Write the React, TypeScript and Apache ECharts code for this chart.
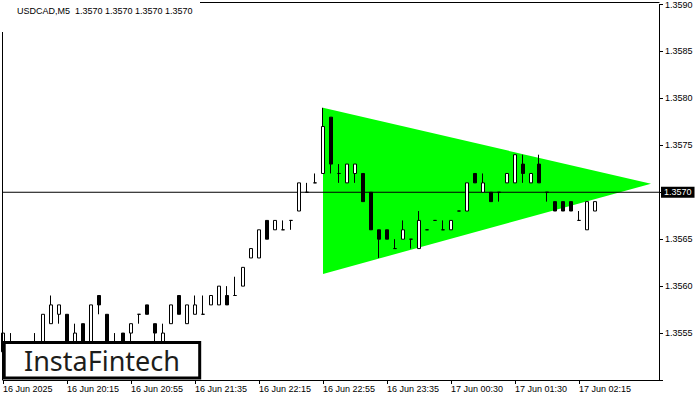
import React, { useEffect, useRef } from "react";
import * as echarts from "echarts";

const barCount = 83;
const tickStep = 8;
const tickLabels = [
  "16 Jun 2025",
  "16 Jun 20:15",
  "16 Jun 20:55",
  "16 Jun 21:35",
  "16 Jun 22:15",
  "16 Jun 22:55",
  "16 Jun 23:35",
  "17 Jun 00:30",
  "17 Jun 01:30",
  "17 Jun 02:15",
];

const opens = [
  1.3553, 1.3553, 1.3552, 1.3553, 1.3552, 1.3553, 1.3556, 1.3557, 1.3557, 1.3553,
  1.3556, 1.3553, 1.3559, 1.3557, 1.3553, 1.3555, 1.3555, 1.3557, 1.3558, 1.3556,
  1.3553, 1.3556, 1.3559, 1.3556, 1.3557, 1.3557, 1.3558, 1.3558, 1.3559, 1.3559,
  1.356, 1.3563, 1.3563, 1.3567, 1.3566, 1.3566, 1.3567, 1.3568, 1.357, 1.3571,
  1.3572, 1.3578, 1.3572, 1.3571, 1.3572, 1.3572, 1.357, 1.3566, 1.3566, 1.3564,
  1.3565, 1.3565, 1.3564, 1.3566, 1.3567, 1.3566, 1.3566, 1.3568, 1.3568, 1.3572,
  1.357, 1.357, 1.357, 1.3571, 1.3571, 1.3573, 1.3571, 1.3573, 1.357, 1.3569,
  1.3569, 1.3569, 1.3567, 1.3566, 1.3568,
];
const closes = [
  1.3555, 1.3552, 1.3553, 1.3552, 1.3553, 1.3557, 1.3558, 1.3558, 1.3553, 1.3555,
  1.3553, 1.3558, 1.3558, 1.3553, 1.3552, 1.3553, 1.3556, 1.3557, 1.3557, 1.3555,
  1.3555, 1.3558, 1.3557, 1.3558, 1.3558, 1.3557, 1.3559, 1.356, 1.3558, 1.3559,
  1.3562, 1.3564, 1.3566, 1.3565, 1.3567, 1.3566, 1.3567, 1.3571, 1.357, 1.3571,
  1.3577, 1.3573, 1.3572, 1.3573, 1.3573, 1.3569, 1.3566, 1.3565, 1.3565, 1.3564,
  1.3566, 1.3565, 1.3567, 1.3566, 1.3567, 1.3566, 1.3567, 1.3568, 1.3571, 1.3571,
  1.3571, 1.3569, 1.357, 1.3572, 1.3574, 1.3572, 1.3572, 1.3571, 1.357, 1.3568,
  1.3568, 1.3568, 1.3567, 1.3569, 1.3569,
];
const lows = [
  1.3552, 1.3551, 1.3551, 1.3551, 1.3551, 1.3552, 1.3556, 1.3556, 1.3552, 1.3552,
  1.3552, 1.3552, 1.3557, 1.3552, 1.3551, 1.3552, 1.3554, 1.3556, 1.3557, 1.3554,
  1.3552, 1.3556, 1.3557, 1.3556, 1.3557, 1.3557, 1.3558, 1.3558, 1.3558, 1.3559,
  1.356, 1.3563, 1.3563, 1.3565, 1.3566, 1.3566, 1.3566, 1.3568, 1.357, 1.3571,
  1.3572, 1.3572, 1.3571, 1.3571, 1.3571, 1.3569, 1.3566, 1.3563, 1.3565, 1.3564,
  1.3565, 1.3564, 1.3564, 1.3566, 1.3567, 1.3566, 1.3566, 1.3568, 1.3568, 1.3571,
  1.357, 1.3569, 1.3569, 1.3571, 1.3571, 1.3571, 1.3571, 1.3571, 1.3569, 1.3568,
  1.3568, 1.3568, 1.3567, 1.3566, 1.3568,
];
const highs = [
  1.3555, 1.3555, 1.3553, 1.3554, 1.3555, 1.3557, 1.3559, 1.3558, 1.3557, 1.3556,
  1.3556, 1.3558, 1.3559, 1.3557, 1.3555, 1.3555, 1.3556, 1.3557, 1.3558, 1.3556,
  1.3556, 1.3558, 1.3559, 1.3558, 1.3559, 1.3559, 1.3559, 1.356, 1.356, 1.3561,
  1.3562, 1.3564, 1.3566, 1.3567, 1.3567, 1.3567, 1.3567, 1.3571, 1.3571, 1.3572,
  1.3579, 1.3578, 1.3573, 1.3573, 1.3573, 1.3572, 1.357, 1.3566, 1.3566, 1.3565,
  1.3567, 1.3565, 1.3568, 1.3566, 1.3567, 1.3567, 1.3567, 1.3568, 1.3571, 1.3572,
  1.3572, 1.357, 1.357, 1.3572, 1.3574, 1.3574, 1.3572, 1.3574, 1.357, 1.3569,
  1.3569, 1.3569, 1.3568, 1.3569, 1.3569,
];

const triangleBars = [40, 40, 81];
const trianglePrices = [1.3579, 1.35613, 1.35709];
const currentPrice = 1.357;
const titleText = "USDCAD,M5  1.3570 1.3570 1.3570 1.3570";
const yMin = 1.355;
const yMax = 1.359;
const yStep = 0.0005;

const FONT = "Liberation Sans";

export default function App() {
  const ref = useRef<HTMLDivElement>(null);

  useEffect(() => {
    const chart = echarts.init(ref.current!, null, { renderer: "svg" });
    const categories = Array.from({ length: barCount }, (_, i) => String(i));
    const candles = opens.map((o, i) => [o, closes[i], lows[i], highs[i]]);
    const showTick = (index: number) =>
      index % tickStep === 0 && index / tickStep < tickLabels.length;

    const option: any = {
      animation: false,
      backgroundColor: "#ffffff",
      title: {
        text: titleText,
        left: 17,
        top: 6,
        padding: 0,
        textStyle: {
          fontSize: 9,
          fontWeight: "normal",
          color: "#000",
          fontFamily: FONT,
        },
      },
      grid: { left: 3, right: 41, top: 3, bottom: 20, containLabel: false },
      xAxis: {
        type: "category",
        data: categories,
        boundaryGap: false,
        axisLine: { lineStyle: { color: "#000", width: 1 } },
        axisTick: {
          interval: (i: number) => showTick(i),
          length: 4,
          lineStyle: { color: "#000" },
        },
        axisLabel: {
          interval: (i: number) => showTick(i),
          formatter: (_v: string, i: number) => tickLabels[i / tickStep] ?? "",
          align: "left",
          margin: 4,
          fontSize: 9,
          color: "#000",
          fontFamily: FONT,
        },
        splitLine: { show: false },
      },
      yAxis: {
        type: "value",
        position: "right",
        min: yMin,
        max: yMax,
        interval: yStep,
        scale: true,
        axisLine: { show: true, lineStyle: { color: "#000", width: 1 } },
        axisTick: { show: true, length: 4, lineStyle: { color: "#000" } },
        axisLabel: {
          margin: 6,
          fontSize: 9,
          color: "#000",
          fontFamily: FONT,
          formatter: (v: number) =>
            Math.abs(v - currentPrice) < 1e-7 || Math.abs(v - yMin) < 1e-7
              ? ""
              : v.toFixed(4),
        },
        splitLine: { show: false },
      },
      series: [
        {
          type: "custom",
          z: 1,
          silent: true,
          data: [[triangleBars[0], trianglePrices[0]]],
          renderItem: (_params: any, api: any) => {
            const pts = triangleBars.map((b, k) =>
              api.coord([b, trianglePrices[k]])
            );
            return {
              type: "polygon",
              shape: { points: pts },
              style: { fill: "#00ff00", stroke: "none" },
            };
          },
        },
        {
          type: "line",
          z: 2,
          silent: true,
          symbol: "none",
          data: [
            [0, currentPrice],
            [barCount - 1, currentPrice],
          ],
          lineStyle: { color: "#000", width: 1, type: "solid" },
          endLabel: {
            show: true,
            distance: 2,
            formatter: () => currentPrice.toFixed(4),
            backgroundColor: "#000",
            color: "#fff",
            padding: [1, 3, 1, 3],
            fontSize: 9,
            fontFamily: FONT,
          },
        },
        {
          type: "candlestick",
          z: 3,
          barWidth: 4,
          data: candles,
          itemStyle: {
            color: "#ffffff",
            color0: "#000000",
            borderColor: "#000000",
            borderColor0: "#000000",
            borderColorDoji: "#000000",
            borderWidth: 1,
          },
        },
      ],
      graphic: [
        {
          type: "line",
          z: 50,
          shape: { x1: 2.5, y1: 32, x2: 2.5, y2: 380 },
          style: { stroke: "#000", lineWidth: 1 },
        },
        {
          type: "line",
          z: 50,
          shape: { x1: 200, y1: 2.5, x2: 659.5, y2: 2.5 },
          style: { stroke: "#000", lineWidth: 1 },
        },
        {
          type: "group",
          z: 100,
          children: [
            {
              type: "rect",
              shape: { x: 4.2, y: 342.5, width: 195.5, height: 35.5 },
              style: { fill: "#ffffff", stroke: "#000000", lineWidth: 3 },
              z: 100,
            },
            {
              type: "text",
              x: 102,
              y: 360,
              z: 101,
              style: {
                text: "InstaFintech",
                fontSize: 27,
                fontFamily: "Noto Sans",
                fill: "#1d1d1b",
                textAlign: "center",
                textVerticalAlign: "middle",
              },
            },
          ],
        },
      ],
    };

    chart.setOption(option);
    return () => chart.dispose();
  }, []);

  return (
    <div
      ref={ref}
      style={{ position: "fixed", left: 0, top: 0, width: 700, height: 400 }}
    />
  );
}
